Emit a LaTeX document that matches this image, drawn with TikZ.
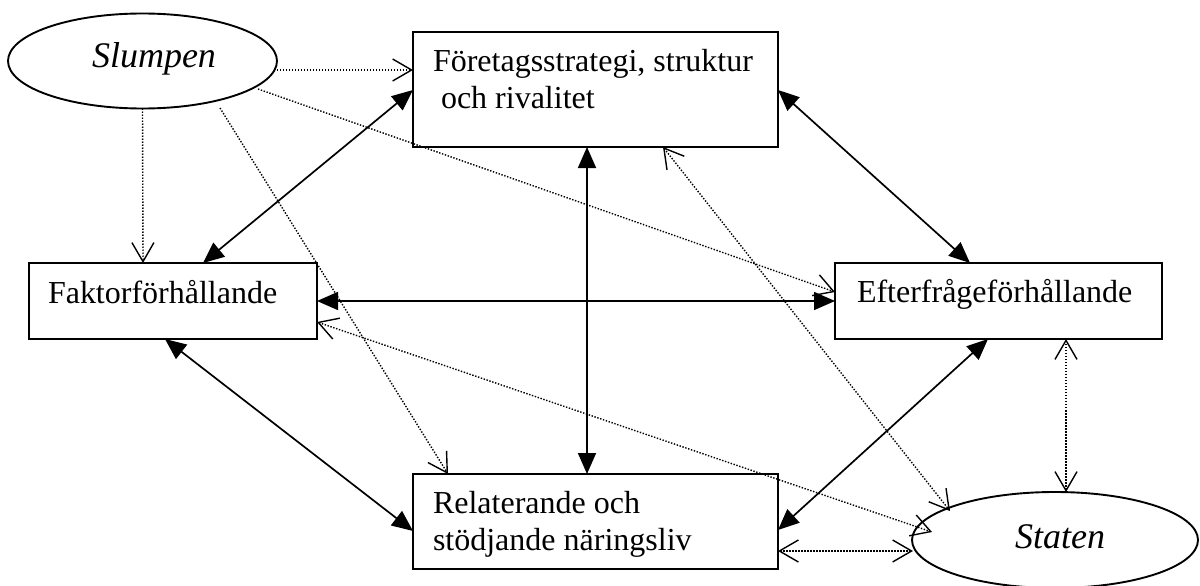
\documentclass[tikz,border=0pt]{standalone}
\usepackage{fontspec}
\setmainfont{Liberation Serif}
\usetikzlibrary{arrows.meta,shapes.geometric,calc}
\tikzset{
  boxn/.style={draw,line width=2pt,rectangle,inner sep=0pt,outer sep=0pt},
  ellip/.style={draw,line width=1.9pt,ellipse,inner sep=0pt,outer sep=0pt},
  lbl/.style={anchor=base west,inner sep=0pt,outer sep=0pt,font=\fontsize{32}{36}\selectfont},
  ilbl/.style={anchor=base west,inner sep=0pt,outer sep=0pt,font=\fontsize{36}{40}\selectfont\itshape},
  dbl/.style={line width=1.7pt,{Triangle[length=21pt,width=18pt]}-{Triangle[length=21pt,width=18pt]}},
  dotl/.style={line width=1.4pt,dash pattern=on 1.4pt off 1.6pt},
  dotone/.style={dotl,-{Straight Barb[length=19pt,width=22pt]}},
  dottwo/.style={dotl,{Straight Barb[length=19pt,width=22pt]}-{Straight Barb[length=19pt,width=22pt]}}
}
\begin{document}
\begin{tikzpicture}[x=1pt,y=-1pt]
\useasboundingbox (0,0) rectangle (1200,586);
% shapes
\node[ellip,minimum width=269pt,minimum height=95pt] (slump) at (142.5,61) {};
\node[ellip,minimum width=286pt,minimum height=96pt] (stat) at (1055,540) {};
\node[boxn,minimum width=365pt,minimum height=115pt] (top) at (595.5,89.5) {};
\node[boxn,minimum width=288pt,minimum height=76pt] (fak) at (173,301) {};
\node[boxn,minimum width=327pt,minimum height=76pt] (eft) at (998.5,301) {};
\node[boxn,minimum width=365pt,minimum height=95pt] (rel) at (595.5,521.5) {};
% texts
\node[ilbl] (tslump) at (92,68) {Slumpen};
\node[ilbl] (tstat) at (1015,548) {Staten};
\node[lbl] (ttop1) at (433,72) {Företagsstrategi, struktur};
\node[lbl] (ttop2) at (441,108) {och rivalitet};
\node[lbl] (tfak) at (48,303) {Faktorförhållande};
\node[lbl] (teft) at (857,302) {Efterfrågeförhållande};
\node[lbl] (trel1) at (433,513) {Relaterande och};
\node[lbl] (trel2) at (433,550) {stödjande näringsliv};
% solid double arrows
\draw[dbl] ($(top.north west)+(0,58)$) -- ($(fak.north west)+(174,0)$);
\draw[dbl] ($(top.south west)+(174,0)$) -- ($(rel.north west)+(174,0)$);
\draw[dbl] ($(top.north east)+(0,58)$) -- ($(eft.north west)+(135,0)$);
\draw[dbl] ($(fak.north east)+(0,38)$) -- ($(eft.north west)+(0,38)$);
\draw[dbl] ($(fak.south west)+(136,0)$) -- ($(rel.north west)+(0,57)$);
\draw[dbl] ($(eft.south west)+(153,0)$) -- ($(rel.north east)+(0,56)$);
% dotted connectors
\draw[dotone] ($(slump.center)+(134.5,9)$) -- ($(top.north west)+(0,38)$);
\draw[dotone] (slump.south) -- ($(fak.north west)+(114,0)$);
\draw[dotone] ($(slump.center)+(115.5,28)$) -- ($(eft.north west)+(0,29)$);
\draw[dotone] ($(slump.center)+(77.5,47)$) -- ($(rel.north west)+(35,0)$);
\draw[dottwo] ($(top.south west)+(250,0)$) -- ($(stat.center)+(-105,-29)$);
\draw[dottwo] ($(fak.north east)+(0,59)$) -- ($(stat.center)+(-123,-8)$);
\draw[dottwo] ($(rel.north east)+(0,77)$) -- ($(stat.center)+(-142,11)$);
\draw[dottwo] ($(eft.south west)+(231,0)$) -- ($(stat.center)+(11,-48)$);
\end{tikzpicture}
\end{document}
